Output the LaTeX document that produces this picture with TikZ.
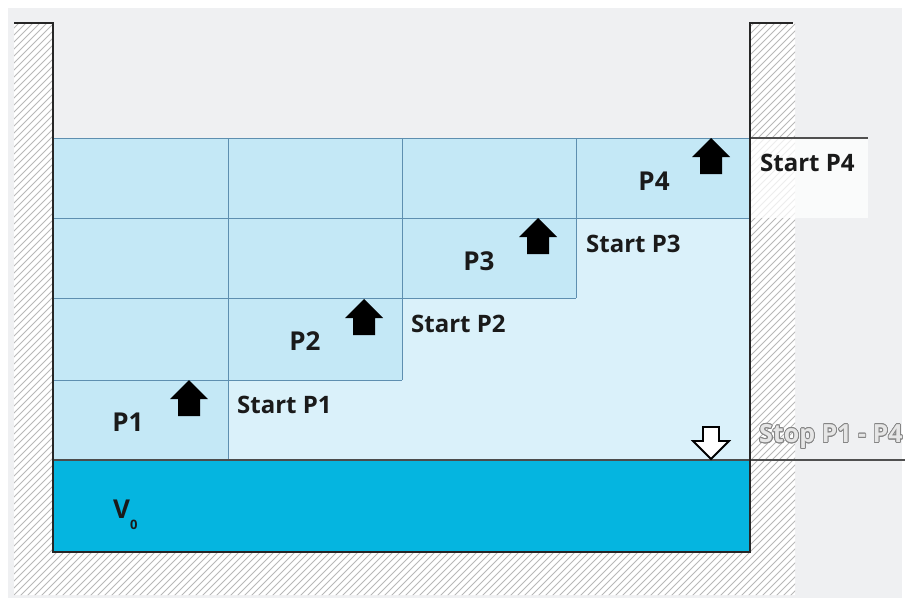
\documentclass[tikz,border=0pt]{standalone}
\usepackage{fontspec}
\setmainfont{Open Sans}
\usepackage{contour}
\contourlength{0.8pt}
\definecolor{bg}{HTML}{EFF0F2}
\definecolor{water1}{HTML}{C4E8F6}
\definecolor{water2}{HTML}{DAF1FA}
\definecolor{vzero}{HTML}{05B5E0}
\definecolor{gridc}{HTML}{5E8FB0}
\definecolor{hatchc}{HTML}{B8B8B8}
\definecolor{txt}{HTML}{1A1A1A}
\definecolor{stopc}{HTML}{858585}
\definecolor{stopfill}{HTML}{E6E6E6}
\definecolor{linec}{HTML}{505050}
\begin{document}
\begin{tikzpicture}[x=1pt,y=-1pt,
  gridline/.style={draw=gridc, line width=1pt},
  plabel/.style={font=\fontsize{26}{28}\selectfont\bfseries, text=txt, inner sep=0},
  slabel/.style={font=\fontsize{24}{26}\selectfont\bfseries, text=txt, inner sep=0, anchor=west},
  wall/.style={draw=black!85, line width=1.3pt},
  hatchline/.style={draw=hatchc, line width=0.9pt},
  uparrow/.style={fill=black},
  downarrow/.style={draw=black, fill=white, line width=1.8pt, line join=miter}]
\useasboundingbox (0,0) rectangle (908,605);
\fill[white] (0,0) rectangle (908,605);
\fill[bg] (8,8) rectangle (902,598);
% hatched walls
\fill[white] (14,23) -- (53,23) -- (53,552) -- (750,552) -- (750,23) -- (795,23) -- (795,595) -- (14,595) -- cycle;
\begin{scope}
\clip (14,23) -- (53,23) -- (53,552) -- (750,552) -- (750,23) -- (795,23) -- (795,595) -- (14,595) -- cycle;
\foreach \i in {-600,-593,...,900} \draw[hatchline] (\i,600) -- ++(600,-600);
\end{scope}
% water
\fill[water2] (53,138) rectangle (750,460);
\fill[water1] (53,138) rectangle (228,460);
\fill[water1] (228,138) rectangle (402,380);
\fill[water1] (402,138) rectangle (576,298);
\fill[water1] (576,138) rectangle (750,218);
\fill[vzero] (53,460) rectangle (750,552);
% Start P4 box
\fill[white, opacity=0.75] (750,138) rectangle (868,218);
% grid
\draw[gridline] (53,138) -- (750,138);
\draw[gridline] (53,218) -- (750,218);
\draw[gridline] (53,298) -- (576,298);
\draw[gridline] (53,380) -- (402,380);
\draw[gridline] (228,138) -- (228,460);
\draw[gridline] (402,138) -- (402,380);
\draw[gridline] (576,138) -- (576,298);
\draw[draw=black!70, line width=1.2pt] (53,460) -- (750,460);
% level lines outside
\draw[linec, line width=1.2pt] (750,138) -- (868,138);
\draw[linec, line width=1.2pt] (750,460) -- (905,460);
% walls outline
\draw[wall] (14,23) -- (53,23) -- (53,552) -- (750,552) -- (750,23) -- (793,23);
% up arrows
\foreach \x/\y in {189/380, 364/299, 538/218, 711/138}
  \fill[uparrow] (\x,\y) -- ++(19,19) -- ++(-8,0) -- ++(0,17) -- ++(-22,0) -- ++(0,-17) -- ++(-8,0) -- cycle;
% down arrow
\draw[downarrow] (711,459) -- (729,441) -- (719,441) -- (719,427) -- (703,427) -- (703,441) -- (693,441) -- cycle;
% labels
\node[plabel] (p1) at (128,422) {P1};
\node[plabel] (p2) at (305,341) {P2};
\node[plabel] (p3) at (479,261) {P3};
\node[plabel] (p4) at (654,181) {P4};
\node[slabel] (s1) at (237,405) {Start P1};
\node[slabel] (s2) at (411,324) {Start P2};
\node[slabel] (s3) at (586,244) {Start P3};
\node[slabel] (s4) at (760,163) {Start P4};
\node[slabel, anchor=west, font=\fontsize{25}{27}\selectfont\bfseries] (stop) at (759,437) {\contour{stopc}{\color{stopfill}Stop P1 - P4}};
\node[plabel, anchor=base west] (v0) at (113,518) {V\raisebox{-0.45em}{\fontsize{13}{13}\selectfont 0}};
\end{tikzpicture}
\end{document}
